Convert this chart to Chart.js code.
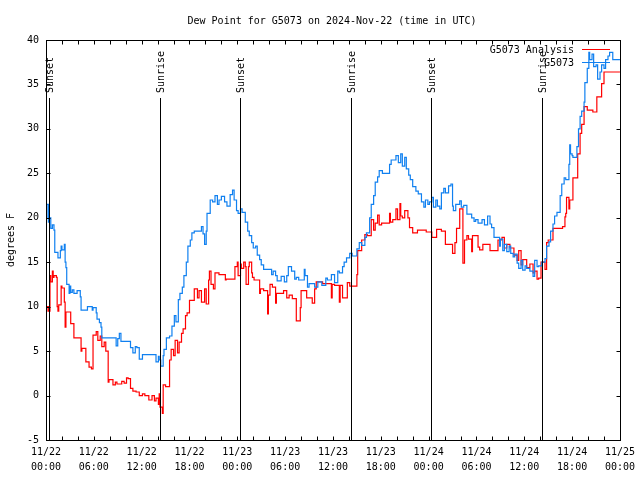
<!DOCTYPE html>
<html>
<head>
<meta charset="utf-8">
<script src="https://cdn.jsdelivr.net/npm/chart.js@4"></script>
<style>
  html, body { margin: 0; padding: 0; background: #fff; }
  #wrap { width: 640px; height: 480px; }
</style>
</head>
<body>
<div id="wrap"><canvas id="dewChart"></canvas></div>
<script>
// hours since 11/22 00:00 UTC
const stationHours = [0,0.1,0.3,0.4,0.6,0.8,1.0,1.1,1.5,1.8,
  1.9,2.0,2.3,2.4,2.5,2.6,2.9,3.0,3.1,3.3,
  3.5,3.9,4.3,4.4,5.2,5.8,5.9,6.3,6.4,6.7,
  6.9,7.0,8.8,9.0,9.2,9.4,10.6,10.9,11.2,11.4,
  11.7,12.1,13.8,14.1,14.2,14.4,14.7,14.8,15.1,15.5,
  15.8,16.1,16.3,16.6,16.8,17.1,17.3,17.6,17.8,18.1,
  18.3,18.6,19.5,19.7,19.9,20.1,20.2,20.6,20.9,21.2,
  21.5,21.7,22.0,22.4,22.7,23.1,23.4,23.6,23.9,24.1,
  24.4,24.6,25.0,25.3,25.5,25.8,26.0,26.3,26.5,26.8,
  27.0,27.3,28.3,28.5,28.8,29.0,29.5,29.9,30.2,30.4,
  30.8,31.2,31.4,31.7,32.4,32.5,32.8,33.0,33.7,34.1,
  34.6,35.1,35.3,35.8,36.2,36.6,36.8,37.2,37.4,37.7,
  38.1,38.4,39.0,39.3,39.6,40.0,40.2,40.6,40.8,41.1,
  41.3,41.6,41.8,42.2,43.1,43.3,43.9,44.2,44.5,44.7,
  45.0,45.2,45.5,45.7,46.0,46.4,46.7,47.1,47.4,47.6,
  47.9,48.1,48.4,48.6,48.9,49.1,49.4,49.6,49.9,50.1,
  50.5,50.8,51.0,51.1,51.4,51.9,52.1,52.4,52.8,53.4,
  53.7,53.9,54.2,54.7,55.0,55.4,55.7,55.9,56.2,56.9,
  57.0,57.3,57.5,57.8,58.1,58.3,58.6,58.8,59.1,59.3,
  59.6,59.8,60.1,60.3,60.7,61.1,61.3,61.6,61.8,62.2,
  62.6,62.8,63.1,63.3,63.6,63.8,64.1,64.5,64.7,65.0,
  65.2,65.6,65.7,65.8,66.0,66.1,66.6,66.8,67.0,67.2,
  67.5,67.6,67.9,68.1,68.2,68.5,68.7,69.0,69.2,69.5,
  69.7,70.0,70.2,70.5,70.7,71.1,71.5,72.0];
const stationDew = [21.0,20.0,21.5,19.5,20.0,18.8,19.2,18.6,16.1,15.5,
  16.3,16.8,16.4,17.0,15.0,14.4,12.5,11.5,12.3,11.6,
  11.9,11.5,11.8,11.1,9.6,10.0,9.6,9.9,9.3,8.6,
  8.2,7.7,6.5,5.6,6.4,7.0,6.1,5.4,4.8,5.5,
  5.4,4.1,4.6,3.8,4.4,4.0,3.3,4.5,5.2,6.5,
  6.7,7.8,9.0,8.3,10.8,11.5,12.2,13.5,15.0,16.8,
  17.5,18.3,18.5,19.0,18.2,17.0,18.5,20.5,22.0,21.8,
  22.5,21.5,22.0,22.4,21.8,21.3,22.6,23.1,22.0,20.8,
  20.5,21.0,20.6,19.5,18.5,18.0,17.2,16.6,16.8,15.8,
  15.3,14.7,14.2,13.6,14.0,13.5,12.9,13.4,12.8,13.5,
  14.5,14.0,13.1,13.3,13.0,14.2,13.5,12.2,12.6,12.2,
  12.8,12.4,13.2,13.0,13.6,12.7,14.0,13.8,14.5,15.0,
  15.5,16.0,15.7,16.5,17.2,16.9,17.8,18.3,20.0,21.5,
  22.5,24.0,24.6,25.3,25.0,26.0,26.5,27.0,26.2,27.2,
  25.8,26.8,25.5,24.8,24.3,23.5,23.0,22.7,21.8,21.2,
  22.0,21.5,21.8,22.3,21.2,22.0,21.3,21.0,22.8,23.3,
  22.8,23.6,23.8,21.3,20.8,21.5,21.9,21.2,21.4,20.4,
  20.0,19.6,19.8,19.4,19.8,19.2,20.2,19.3,18.9,17.8,
  16.8,17.6,16.3,17.0,16.2,16.8,16.0,15.6,15.9,14.9,
  14.3,15.2,14.1,14.6,14.3,14.0,13.4,15.2,14.5,14.6,
  15.0,15.4,16.8,17.3,18.5,19.3,20.2,20.6,22.5,23.8,
  24.5,24.3,26.0,28.2,27.2,27.0,26.8,28.0,30.0,31.4,
  32.0,33.0,35.2,36.8,38.6,37.8,38.4,37.0,37.2,35.6,
  36.4,37.2,36.8,37.8,38.2,38.6,37.8,37.8];

const analysisHours = [0,0.1,0.3,0.5,0.6,0.8,0.9,1.0,1.3,1.4,
  1.5,1.6,1.9,2.0,2.3,2.4,2.5,3.1,3.5,4.4,
  4.5,4.6,5.0,5.4,5.7,5.9,6.3,6.5,6.8,7.0,
  7.3,7.5,7.8,7.9,8.4,8.7,8.9,9.5,9.8,10.1,
  10.3,10.6,10.9,11.3,11.7,12.1,12.4,12.9,13.3,13.6,
  13.8,14.1,14.2,14.3,14.6,14.7,15.0,15.5,15.7,16.0,
  16.2,16.5,16.7,17.0,17.2,17.5,17.7,18.0,18.6,19.0,
  19.2,19.5,19.9,20.1,20.4,20.5,20.7,21.0,21.2,21.7,
  22.5,22.6,23.7,24.0,24.1,24.4,24.5,24.8,25.0,25.1,
  25.4,25.5,25.8,25.9,26.1,26.8,26.9,27.3,27.8,27.9,
  28.1,28.4,28.8,28.9,29.8,30.2,30.5,30.9,31.4,31.9,
  32.0,32.7,33.4,33.7,33.9,34.7,35.8,35.9,36.2,36.8,
  36.9,37.2,37.8,38.1,39.0,39.1,39.6,40.0,40.3,40.8,
  41.1,41.3,41.6,41.8,42.1,43.1,43.2,43.5,43.9,44.1,
  44.4,44.5,44.7,45.0,45.4,45.6,46.0,46.6,47.7,48.4,
  49.0,49.6,50.1,51.0,51.3,51.5,51.9,52.3,52.5,52.8,
  53.0,53.4,53.5,54.2,54.4,54.8,55.7,56.7,57.2,57.5,
  57.8,58.2,58.7,59.1,59.3,59.6,59.8,60.3,60.7,61.1,
  61.3,61.6,61.8,62.1,62.2,62.6,62.8,63.0,63.6,64.8,
  65.1,65.2,65.3,65.6,65.7,66.1,66.7,67.0,67.2,67.5,
  67.9,68.6,69.1,69.7,70.0,70.7,72.0];
const analysisDew = [10.5,9.5,10.0,9.5,13.5,12.8,14.0,13.3,13.5,13.3,
  10.0,9.5,10.2,12.3,12.1,10.5,7.7,9.4,8.1,6.5,
  5.0,5.3,5.3,3.8,3.2,3.0,6.8,7.2,6.2,6.7,
  5.5,6.0,5.0,1.5,1.8,1.2,1.5,1.3,1.6,1.4,
  2.0,1.9,0.8,0.5,0.4,0.0,0.2,0.0,-0.5,0.0,
  -0.6,-0.3,-1.0,0.2,-1.3,-2.0,1.2,1.0,4.0,5.2,
  4.5,6.2,4.8,6.0,7.0,7.5,9.0,9.3,10.7,12.0,
  11.0,11.8,10.5,12.0,10.3,13.0,14.0,12.5,12.0,13.8,
  13.6,13.0,13.1,14.5,15.0,13.5,14.8,14.3,15.0,14.5,
  12.5,14.5,15.0,13.8,13.3,13.0,11.5,12.0,11.8,9.2,
  11.3,12.5,12.2,10.4,11.5,11.8,11.0,11.3,10.9,8.4,
  9.9,11.8,11.0,10.4,12.0,12.8,12.6,11.0,12.5,12.4,
  10.5,12.4,11.0,12.7,12.3,13.6,16.3,17.5,18.1,18.0,
  19.8,18.6,19.4,20.3,19.2,19.4,20.5,19.5,19.8,21.0,
  19.8,21.6,20.2,20.0,20.8,20.0,18.9,18.3,18.6,18.4,
  17.8,18.7,18.5,17.0,16.0,17.2,18.8,21.0,14.9,17.5,
  18.0,17.6,16.2,18.0,16.7,16.4,17.0,16.3,17.5,17.8,
  16.6,17.0,16.6,15.8,15.2,16.3,14.7,15.3,14.4,14.8,
  13.8,14.0,13.1,13.2,15.0,15.0,14.2,17.2,17.5,18.8,
  19.0,20.1,20.5,22.3,21.0,22.0,24.5,27.2,29.5,30.5,
  32.5,32.1,31.9,33.6,35.1,36.4,36.4];

const sunHours = [0.4, 14.35, 24.3, 38.2, 48.3, 62.2];
const sunLabels = ['Sunset', 'Sunrise', 'Sunset', 'Sunrise', 'Sunset', 'Sunrise'];

const FONT = '"DejaVu Sans Mono", "Liberation Mono", monospace';
Chart.defaults.color = '#000';
Chart.defaults.font.family = FONT;
Chart.defaults.font.size = 10;

function pts(xs, ys) {
  return xs.map((h, i) => ({ x: h, y: ys[i] }));
}

// gnuplot-like frame, ticks, sun markers, legend and title
const decor = {
  id: 'decor',
  afterDatasetsDraw(chart) {
    const { ctx, chartArea: a, scales: { x, y } } = chart;
    ctx.save();
    ctx.strokeStyle = '#000';
    ctx.lineWidth = 1;
    ctx.fillStyle = '#000';
    ctx.font = '10px ' + FONT;

    sunHours.forEach((h, i) => {
      const px = Math.round(x.getPixelForValue(h)) + 0.5;
      ctx.beginPath();
      ctx.moveTo(px, a.top + 58);
      ctx.lineTo(px, a.bottom);
      ctx.stroke();
      ctx.save();
      ctx.translate(px + 1, a.top + 53);
      ctx.rotate(-Math.PI / 2);
      ctx.textAlign = 'left';
      ctx.textBaseline = 'middle';
      ctx.fillText(sunLabels[i], 0, 0);
      ctx.restore();
    });

    const L = Math.round(a.left) + 0.5, R = Math.round(a.right) + 0.5;
    const T = Math.round(a.top) + 0.5, B = Math.round(a.bottom) + 0.5;
    ctx.strokeRect(L, T, R - L, B - T);

    ctx.beginPath();
    for (let h = 2; h < 72; h += 2) {
      const px = Math.round(x.getPixelForValue(h)) + 0.5;
      ctx.moveTo(px, B); ctx.lineTo(px, B - 4);
      ctx.moveTo(px, T); ctx.lineTo(px, T + 4);
    }
    for (let v = 0; v < 40; v += 5) {
      const py = Math.round(y.getPixelForValue(v)) + 0.5;
      ctx.moveTo(L, py); ctx.lineTo(L + 4, py);
      ctx.moveTo(R, py); ctx.lineTo(R - 4, py);
    }
    ctx.stroke();

    // legend
    ctx.textAlign = 'right';
    ctx.textBaseline = 'middle';
    const items = chart.data.datasets.slice().reverse();
    items.forEach((ds, i) => {
      const ly = a.top + 10 + i * 13;
      ctx.fillStyle = '#000';
      ctx.fillText(ds.label, 574, ly);
      ctx.strokeStyle = ds.borderColor;
      ctx.beginPath();
      ctx.moveTo(582, Math.round(ly) - 0.5);
      ctx.lineTo(610, Math.round(ly) - 0.5);
      ctx.stroke();
    });

    ctx.fillStyle = '#000';
    ctx.textAlign = 'center';
    ctx.fillText('Dew Point for G5073 on 2024-Nov-22 (time in UTC)', 332, 21);
    ctx.restore();
  }
};

new Chart(document.getElementById('dewChart'), {
  type: 'line',
  data: {
    datasets: [{
      label: 'G5073',
      data: pts(stationHours, stationDew),
      borderColor: 'rgb(16,128,240)',
      borderWidth: 1.2,
      stepped: 'after',
      pointRadius: 0,
      order: 1
    }, {
      label: 'G5073 Analysis',
      data: pts(analysisHours, analysisDew),
      borderColor: 'rgb(255,0,0)',
      borderWidth: 1.2,
      stepped: 'after',
      pointRadius: 0,
      order: 2
    }]
  },
  options: {
    responsive: true,
    maintainAspectRatio: false,
    animation: false,
    layout: { padding: { left: 0, right: 19, top: 40, bottom: 0 } },
    plugins: { legend: { display: false }, tooltip: { enabled: false }, title: { display: false } },
    scales: {
      x: {
        type: 'linear',
        min: 0, max: 72,
        grid: { display: false, drawTicks: false },
        border: { display: false },
        afterFit: s => { s.height = 40; },
        ticks: {
          stepSize: 6,
          autoSkip: false,
          maxRotation: 0,
          padding: 5,
          font: { size: 10, lineHeight: 1.5 },
          callback: v => {
            const day = 22 + Math.floor(v / 24);
            const hr = String(v % 24).padStart(2, '0');
            return ['11/' + day, hr + ':00'];
          }
        }
      },
      y: {
        min: -5, max: 40,
        grid: { display: false, drawTicks: false },
        border: { display: false },
        afterFit: s => { s.width = 46; },
        ticks: { stepSize: 5, padding: 7 },
        title: { display: true, text: 'degrees F', padding: { top: 5, bottom: 0 } }
      }
    }
  },
  plugins: [decor]
});
</script>
</body>
</html>
